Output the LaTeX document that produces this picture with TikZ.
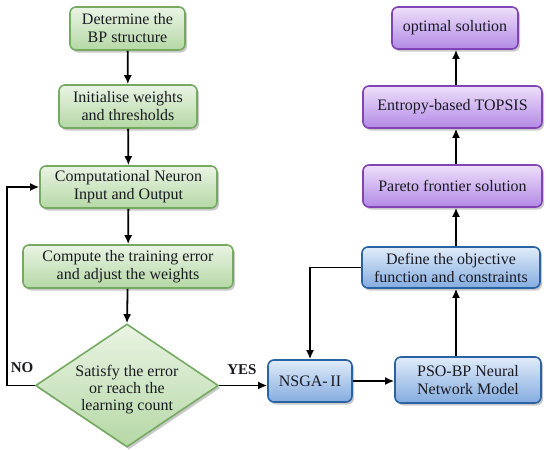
\documentclass[tikz,border=0pt]{standalone}
\usepackage{fontspec}
\setmainfont{Liberation Serif}
\usetikzlibrary{arrows.meta,shadows,shapes.geometric}
\definecolor{gtop}{HTML}{EAF4E4}
\definecolor{gbot}{HTML}{B5D8A5}
\definecolor{gline}{HTML}{76AA63}
\definecolor{btop}{HTML}{E0ECF9}
\definecolor{bbot}{HTML}{84ACE0}
\definecolor{bline}{HTML}{2A62A2}
\definecolor{ptop}{HTML}{EEDFFA}
\definecolor{pbot}{HTML}{B28AE6}
\definecolor{pline}{HTML}{8244B4}
\definecolor{txt}{HTML}{1A1A22}
\tikzset{
  box/.style={rectangle, rounded corners=6pt, line width=1.6pt, align=center,
    inner sep=2pt, text=txt, font=\fontsize{16}{18}\selectfont,
    drop shadow={shadow xshift=2pt, shadow yshift=-2.5pt, opacity=0.35, fill=black!60}},
  gbox/.style={box, draw=gline, top color=gtop, bottom color=gbot},
  bbox/.style={box, draw=bline, top color=btop, bottom color=bbot},
  pbox/.style={box, draw=pline, top color=ptop, bottom color=pbot},
  dia/.style={diamond, draw=gline, line width=1.6pt, inner sep=0pt,
    top color=gtop, bottom color=gbot,
    drop shadow={shadow xshift=2pt, shadow yshift=-2.5pt, opacity=0.35, fill=black!60}},
  arr/.style={line width=1.8pt, -{Latex[length=9pt,width=8pt]}},
  lbl/.style={font=\bfseries\fontsize{15}{16}\selectfont, text=txt, inner sep=0pt}
}
\begin{document}
\begin{tikzpicture}[x=1pt,y=-1pt]
\useasboundingbox (0,0) rectangle (550,450);
% left column
\node[gbox, minimum width=115pt, minimum height=43pt] (b1) at (127.5,28.5) {Determine the\\BP structure};
\node[gbox, minimum width=138pt, minimum height=43pt] (b2) at (128,106.5) {Initialise weights\\and thresholds};
\node[gbox, minimum width=177pt, minimum height=42pt] (b3) at (128.5,187) {Computational Neuron\\Input and Output};
\node[gbox, minimum width=210pt, minimum height=43pt] (b4) at (128,266.5) {Compute the training error\\and adjust the weights};
\node[dia, minimum width=183pt, minimum height=123pt] (d) at (127,385.5) {};
\node[align=center, text=txt, font=\fontsize{16}{17}\selectfont, inner sep=0pt] (dt) at (127,390) {Satisfy the error\\or reach the\\learning count};
% right column
\node[bbox, minimum width=84pt, minimum height=42pt] (nsga) at (310,381) {NSGA-\,II};
\node[bbox, minimum width=146pt, minimum height=46pt] (pso) at (468,380) {PSO-BP Neural\\Network Model};
\node[bbox, minimum width=178pt, minimum height=41pt] (def) at (451,267.5) {Define the objective\\function and constraints};
\node[pbox, minimum width=179pt, minimum height=42pt] (par) at (452.5,186) {Pareto frontier solution};
\node[pbox, minimum width=179pt, minimum height=42pt] (ent) at (452.5,107) {Entropy-based TOPSIS};
\node[pbox, minimum width=126pt, minimum height=42pt] (opt) at (455,28) {optimal solution};
\coordinate (cx) at (456,0);
\coordinate (fb) at (7,0);
% labels
\node[lbl] (no) at (22,368) {NO};
\node[lbl] (yes) at (242,370) {YES};
% connectors
\draw[arr] (b1) -- (b2);
\draw[arr] (b2) -- (b3);
\draw[arr] (b3) -- (b4);
\draw[arr] (b4) -- (d.north);
\draw[arr] (d.west) -- (d.west -| fb) -- (b3.west -| fb) -- (b3.west);
\draw[arr] (d.east) -- (d.east -| nsga.west);
\draw[arr] (nsga.east) -- (nsga.east -| pso.west);
\draw[arr] (pso.north -| cx) -- (def.south -| cx);
\draw[arr] (def.west) -| (nsga.north);
\draw[arr] (def.north -| cx) -- (par.south -| cx);
\draw[arr] (par.north -| cx) -- (ent.south -| cx);
\draw[arr] (ent.north -| cx) -- (opt.south -| cx);
\end{tikzpicture}
\end{document}
